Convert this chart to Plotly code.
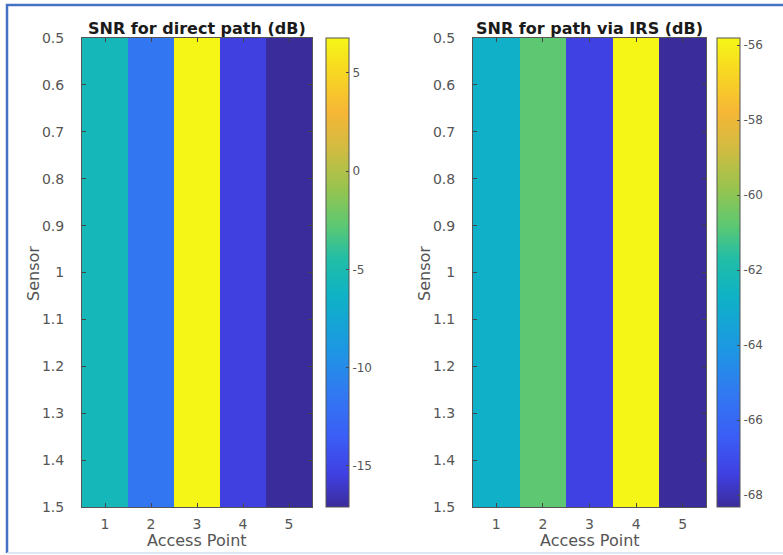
import plotly.graph_objects as go

# ---- data ----
access_points = [1, 2, 3, 4, 5]
sensors = [1]
snr_direct = [-5.6, -11.5, 6.78, -15.5, -17.09]
snr_irs = [-62.8, -60.8, -67.4, -55.81, -68.32]

y_ticks = [0.5, 0.6, 0.7, 0.8, 0.9, 1.0, 1.1, 1.2, 1.3, 1.4, 1.5]
y_ticktext = ["0.5", "0.6", "0.7", "0.8", "0.9", "1", "1.1", "1.2", "1.3", "1.4", "1.5"]
cb1_ticks = [5, 0, -5, -10, -15]
cb1_text = ["5", "0", "-5", "-10", "-15"]
cb2_ticks = [-56, -58, -60, -62, -64, -66, -68]
cb2_text = ["-56", "-58", "-60", "-62", "-64", "-66", "-68"]

title_left = "SNR for direct path (dB)"
title_right = "SNR for path via IRS (dB)"
xlabel = "Access Point"
ylabel = "Sensor"

# parula-like colorscale (as rendered in the picture)
parula = [
    [0.00, "#3b2c9c"],
    [0.07, "#4040e2"],
    [0.15, "#3a5ef6"],
    [0.24, "#3278f2"],
    [0.34, "#1c98e2"],
    [0.45, "#0eb2c6"],
    [0.53, "#22bea6"],
    [0.60, "#5cc872"],
    [0.68, "#98c44e"],
    [0.76, "#cfbc42"],
    [0.84, "#f5b636"],
    [0.92, "#f8d424"],
    [1.00, "#f6f616"],
]

W, H = 783, 555
def px_x(p):
    return p / W
def px_y(p):
    return 1 - p / H

FONT = "DejaVu Sans"
TICKC = "#555555"

fig = go.Figure()
fig.add_trace(go.Heatmap(x=access_points, y=sensors, z=[snr_direct],
                         coloraxis="coloraxis", xaxis="x", yaxis="y", zsmooth=False))
fig.add_trace(go.Heatmap(x=access_points, y=sensors, z=[snr_irs],
                         coloraxis="coloraxis2", xaxis="x2", yaxis="y2", zsmooth=False))

ydom = [px_y(507), px_y(38)]
common_x = dict(range=[0.5, 5.5], tickvals=access_points, ticks="inside", ticklen=4,
                tickcolor="#444", showline=True, linecolor="#555", linewidth=1,
                mirror="ticks", showgrid=False, zeroline=False, ticklabelstandoff=4,
                automargin=False,
                tickfont=dict(size=14, color=TICKC, family=FONT))
common_y = dict(range=[1.5, 0.5], tickvals=y_ticks, ticktext=y_ticktext, ticks="inside",
                ticklen=4, tickcolor="#444", showline=True, linecolor="#555", linewidth=1,
                mirror="ticks", showgrid=False, zeroline=False, ticklabelstandoff=14,
                automargin=False,
                tickfont=dict(size=14, color=TICKC, family=FONT))

def cbar(x, tv, tt):
    return dict(x=x, xanchor="left", xpad=0, ypad=0, thickness=23, thicknessmode="pixels",
                len=ydom[1] - ydom[0], lenmode="fraction", y=ydom[0], yanchor="bottom",
                tickvals=tv, ticktext=tt, ticks="inside", ticklen=3, tickcolor="#444",
                outlinecolor="#555", outlinewidth=1,
                tickfont=dict(size=12, color=TICKC, family=FONT))

fig.update_layout(
    width=W, height=H,
    margin=dict(l=0, r=0, t=0, b=0, autoexpand=False),
    paper_bgcolor="white", plot_bgcolor="white",
    font=dict(family=FONT, color=TICKC),
    showlegend=False,
    xaxis=dict(domain=[px_x(82), px_x(312)], anchor="y", **common_x),
    yaxis=dict(domain=ydom, anchor="x", **common_y),
    xaxis2=dict(domain=[px_x(473), px_x(706)], anchor="y2", **common_x),
    yaxis2=dict(domain=ydom, anchor="x2", **common_y),
    coloraxis=dict(colorscale=parula, colorbar=cbar(px_x(326), cb1_ticks, cb1_text)),
    coloraxis2=dict(colorscale=parula, colorbar=cbar(px_x(717), cb2_ticks, cb2_text)),
)

ann = []
for cx, t in [((82 + 312) / 2, title_left), ((473 + 706) / 2, title_right)]:
    ann.append(dict(x=px_x(cx), y=px_y(28), xref="paper", yref="paper", text="<b>%s</b>" % t,
                    showarrow=False, xanchor="center", yanchor="middle",
                    font=dict(size=16, color="#1a1a1a", family=FONT)))
    ann.append(dict(x=px_x(cx), y=px_y(540), xref="paper", yref="paper", text=xlabel,
                    showarrow=False, xanchor="center", yanchor="middle",
                    font=dict(size=16, color=TICKC, family=FONT)))
for cx in [33, 424]:
    ann.append(dict(x=px_x(cx), y=px_y(274), xref="paper", yref="paper", text=ylabel,
                    textangle=-90, showarrow=False, xanchor="center", yanchor="middle",
                    font=dict(size=16, color=TICKC, family=FONT)))
fig.update_layout(annotations=ann)

# screenshot frame
shapes = [
    dict(type="line", xref="paper", yref="paper", x0=px_x(6), x1=1.0, y0=px_y(5), y1=px_y(5),
         line=dict(color="#4472c4", width=2.5)),
    dict(type="line", xref="paper", yref="paper", x0=px_x(7), x1=px_x(7), y0=px_y(4), y1=px_y(553),
         line=dict(color="#4472c4", width=2.5)),
    dict(type="line", xref="paper", yref="paper", x0=px_x(7), x1=1.0, y0=px_y(553), y1=px_y(553),
         line=dict(color="#cfe0f3", width=1.5)),
]
fig.update_layout(shapes=shapes)

post = (
    "var d=document.getElementById('{plot_id}');"
    "d.style.position='fixed';d.style.top='0px';d.style.left='0px';"
    "document.documentElement.style.margin='0';document.body.style.margin='0';"
    "document.documentElement.style.overflow='hidden';document.body.style.overflow='hidden';"
)
fig.write_html("out.html", config={"displayModeBar": False}, post_script=post)
